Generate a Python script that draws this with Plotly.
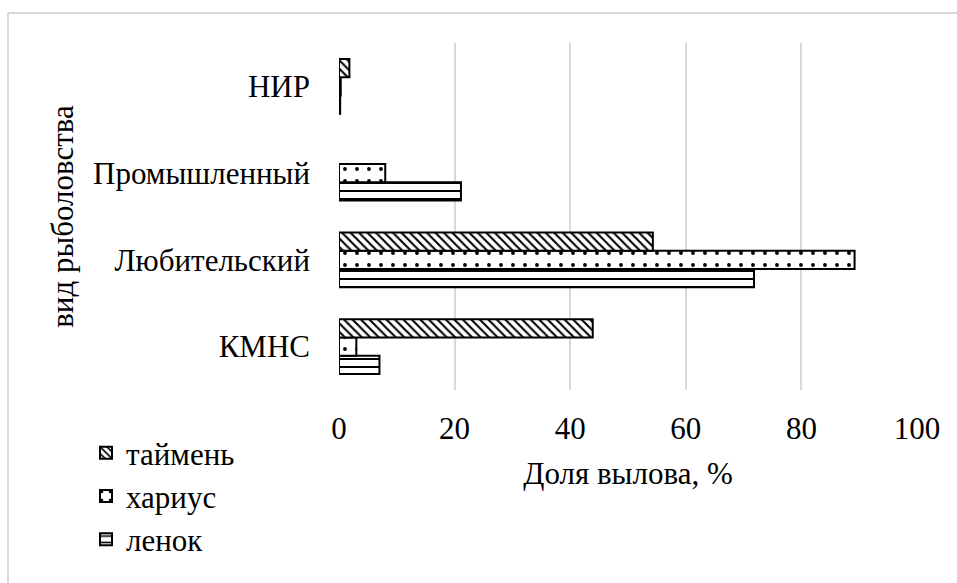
import plotly.graph_objects as go

categories = ["КМНС", "Любительский", "Промышленный", "НИР"]
taimen = [43.9, 54.3, None, 1.8]
kharius = [3.0, 89.2, 8.0, 0.3]
lenok = [7.0, 71.8, 21.1, 0.2]
x_ticks = [0, 20, 40, 60, 80, 100]

FONT = "Liberation Serif"
FS = 31

fig = go.Figure()
series = [
    ("ленок", lenok, dict(shape="-", size=8, solidity=0.25)),
    ("хариус", kharius, dict(shape=".", size=12, solidity=0.08)),
    ("таймень", taimen, dict(shape="\\", size=6, solidity=0.35)),
]
for name, vals, pat in series:
    fig.add_trace(go.Bar(
        y=categories, x=vals, name=name, orientation="h",
        marker=dict(
            color="white",
            line=dict(color="black", width=2),
            pattern=dict(fgcolor="black", bgcolor="white", fillmode="replace", **pat),
        ),
    ))

W, H = 957, 583
L, R, T, B = 339, 917, 43, 390
pw, ph = R - L, B - T

def px_x(p):
    return (p - L) / pw

def px_y(p):
    return (B - p) / ph

fig.update_layout(
    width=W, height=H,
    margin=dict(l=L, r=W - R, t=T, b=H - B, autoexpand=False),
    paper_bgcolor="white", plot_bgcolor="white",
    font=dict(family=FONT, size=FS, color="black"),
    barmode="group", bargap=0.366, bargroupgap=0,
    showlegend=True,
    legend=dict(
        traceorder="reversed", orientation="v",
        x=px_x(86), y=px_y(426), xanchor="left", yanchor="top",
        font=dict(family=FONT, size=FS, color="black"),
        bgcolor="rgba(0,0,0,0)", tracegroupgap=0,
    ),
    xaxis=dict(
        range=[0, 100], tickvals=x_ticks, ticktext=[str(v) for v in x_ticks],
        showgrid=True, gridcolor="#d9d9d9", gridwidth=2,
        zeroline=False, showline=False, ticks="",
        ticklabelstandoff=17,
        title=dict(text="Доля вылова, %", font=dict(family=FONT, size=FS), standoff=17),
    ),
    yaxis=dict(
        categoryorder="array", categoryarray=categories,
        range=[-0.5, 3.5],
        showgrid=False, zeroline=False, showline=False, ticks="",
        ticklabelstandoff=28,
        title=dict(text="вид рыболовства", font=dict(family=FONT, size=FS), standoff=10),
    ),
    shapes=[
        dict(type="line", xref="paper", yref="paper",
             x0=px_x(8), x1=px_x(8), y0=px_y(13), y1=px_y(600),
             line=dict(color="#d9d9d9", width=2)),
        dict(type="line", xref="paper", yref="paper",
             x0=px_x(8), x1=px_x(970), y0=px_y(13), y1=px_y(13),
             line=dict(color="#d9d9d9", width=2)),
    ],
)

fig.write_html("out.html", config={"displayModeBar": False},
               post_script="document.body.style.margin='0';")
